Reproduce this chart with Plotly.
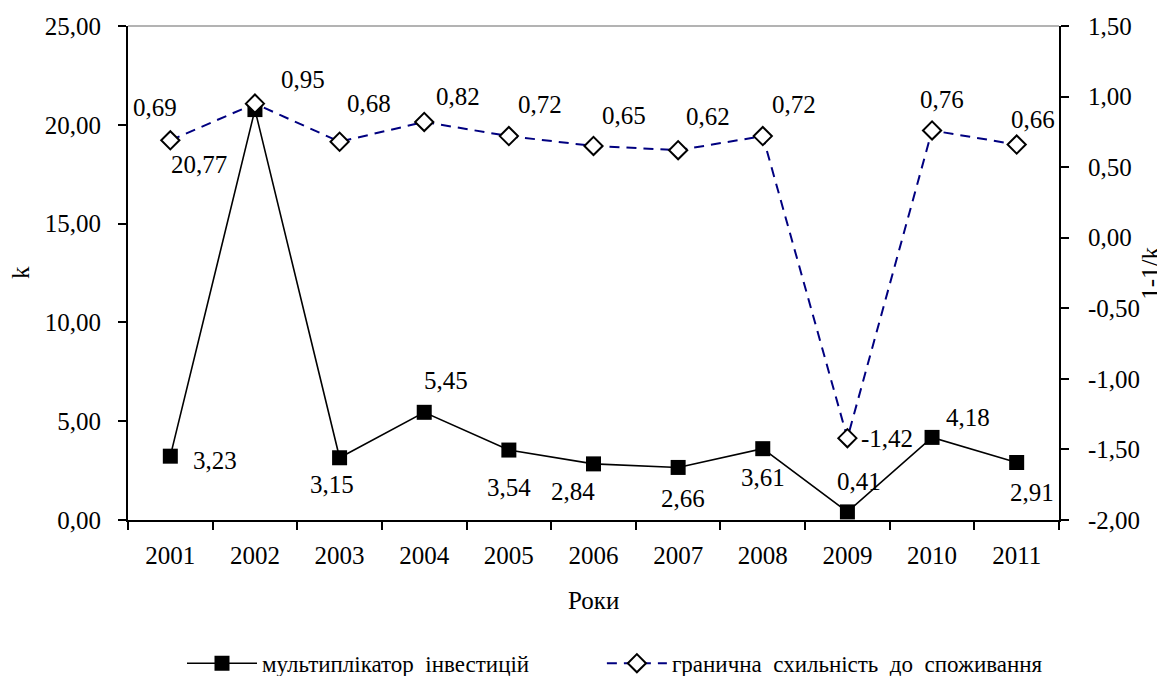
import plotly.graph_objects as go

years = ["2001", "2002", "2003", "2004", "2005", "2006", "2007", "2008", "2009", "2010", "2011"]
multiplier_k = [3.23, 20.77, 3.15, 5.45, 3.54, 2.84, 2.66, 3.61, 0.41, 4.18, 2.91]
mpc = [0.69, 0.95, 0.68, 0.82, 0.72, 0.65, 0.62, 0.72, -1.42, 0.76, 0.66]

left_ticks = [0, 5, 10, 15, 20, 25]
left_ticktext = ["0,00", "5,00", "10,00", "15,00", "20,00", "25,00"]
right_ticks = [-2.0, -1.5, -1.0, -0.5, 0.0, 0.5, 1.0, 1.5]
right_ticktext = ["-2,00", "-1,50", "-1,00", "-0,50", "0,00", "0,50", "1,00", "1,50"]

x_title = "Роки"
y_title = "k"
y2_title = "1-1/k"
name_k = "мультиплікатор\u00a0\u00a0інвестицій"
name_mpc = "гранична\u00a0 схильність\u00a0 до\u00a0 споживання"

# label offsets in pixels (style only)
k_offsets = [(45, 4), (-56, 55), (-8, 27), (22, -32), (0, 37), (-21, 28), (5, 31), (0, 29), (12, -30), (36, -20), (15, 30)]
mpc_offsets = [(-15, -33), (48, -24), (29, -38), (34, -25), (31, -32), (30, -30), (30, -34), (31, -32), (40, 0), (10, -31), (16, -25)]

FONT = "Liberation Serif, Tinos, Times New Roman, DejaVu Serif, serif"
FS = 25


def fmt(v):
    return f"{v:.2f}".replace(".", ",")


fig = go.Figure()
fig.add_trace(go.Scatter(
    x=years, y=multiplier_k, name=name_k, mode="lines+markers",
    line=dict(color="black", width=1.6),
    marker=dict(symbol="square", size=15, color="black"),
    yaxis="y", legend="legend",
))
fig.add_trace(go.Scatter(
    x=years, y=mpc, name=name_mpc, mode="lines+markers",
    line=dict(color="#000080", width=2, dash="10px,7px"),
    marker=dict(symbol="diamond", size=14, color="white", line=dict(color="black", width=2)),
    yaxis="y2", legend="legend2",
))

annotations = []
for i, (v, (dx, dy)) in enumerate(zip(multiplier_k, k_offsets)):
    annotations.append(dict(x=i, y=v, xref="x", yref="y", text=fmt(v), showarrow=True,
                            arrowcolor="rgba(0,0,0,0)", ax=dx, ay=dy,
                            font=dict(family=FONT, size=FS, color="black")))
for i, (v, (dx, dy)) in enumerate(zip(mpc, mpc_offsets)):
    annotations.append(dict(x=i, y=v, xref="x", yref="y2", text=fmt(v), showarrow=True,
                            arrowcolor="rgba(0,0,0,0)", ax=dx, ay=dy,
                            font=dict(family=FONT, size=FS, color="black")))

# axis titles
annotations.append(dict(text=x_title, xref="paper", yref="paper", x=0.5, y=-0.162,
                        xanchor="center", yanchor="middle", showarrow=False,
                        font=dict(family=FONT, size=FS)))
annotations.append(dict(text=y_title, xref="paper", yref="paper", x=-0.116, y=0.5,
                        xanchor="center", yanchor="middle", showarrow=False, textangle=-90,
                        font=dict(family=FONT, size=FS)))
annotations.append(dict(text=y2_title, xref="paper", yref="paper", x=1.0975, y=0.5,
                        xanchor="center", yanchor="middle", showarrow=False, textangle=-90,
                        font=dict(family=FONT, size=FS)))

fig.update_layout(
    width=1157, height=668,
    margin=dict(l=120, r=106, t=18, b=156, autoexpand=False),
    paper_bgcolor="white", plot_bgcolor="white",
    font=dict(family=FONT, size=FS, color="black"),
    showlegend=True,
    legend=dict(orientation="h", x=0.058, xanchor="left", y=-0.29, yanchor="middle",
                font=dict(family=FONT, size=23), itemwidth=70),
    legend2=dict(orientation="h", x=0.509, xanchor="left", y=-0.29, yanchor="middle",
                 font=dict(family=FONT, size=23), itemwidth=60),
    xaxis=dict(type="category", range=[-0.5, len(years) - 0.5], autorange=False, automargin=False,
               showline=True, linecolor="black", linewidth=2,
               ticks="outside", tickson="boundaries", ticklen=8, tickwidth=1.5, tickcolor="black",
               showgrid=False, zeroline=False, tickangle=0, ticklabelstandoff=12,
               tickfont=dict(family=FONT, size=FS)),
    yaxis=dict(range=[0, 25], autorange=False, automargin=False,
               tickvals=left_ticks, ticktext=left_ticktext,
               showline=True, linecolor="black", linewidth=2,
               ticks="outside", ticklen=8, tickwidth=1.5, tickcolor="black",
               showgrid=False, zeroline=False, ticklabelstandoff=12,
               tickfont=dict(family=FONT, size=FS)),
    yaxis2=dict(range=[-2, 1.5], autorange=False, automargin=False,
                tickvals=right_ticks, ticktext=right_ticktext,
                overlaying="y", side="right",
                showline=True, linecolor="black", linewidth=2,
                ticks="outside", ticklen=8, tickwidth=1.5, tickcolor="black",
                showgrid=False, zeroline=False, ticklabelstandoff=14,
                tickfont=dict(family=FONT, size=FS)),
    annotations=annotations,
    shapes=[dict(type="line", xref="paper", yref="paper", x0=0, x1=1, y0=1, y1=1,
                 line=dict(color="#9a9a9a", width=1.5))],
)

fig.write_html("out.html")
